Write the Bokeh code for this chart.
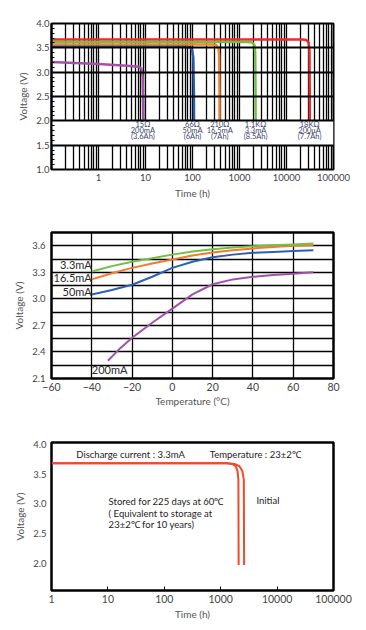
from bokeh.plotting import figure
from bokeh.layouts import column
from bokeh.models import FixedTicker, PrintfTickFormatter
from bokeh.core.properties import value
from bokeh.embed import file_html
from bokeh.resources import INLINE
import numpy as np

FONT = "Lato"

# ---------------- Chart 1 data: discharge curves vs time ----------------
c1_purple_t = [0.1, 1, 4, 7.2, 8.2, 8.7, 8.9, 9.0]
c1_purple_v = [3.21, 3.17, 3.13, 3.11, 3.07, 2.9, 2.4, 2.0]
c1_blue_t = [0.1, 10, 70, 88, 98, 104, 107, 108]
c1_blue_v = [3.52, 3.52, 3.52, 3.51, 3.46, 3.3, 2.6, 2.0]
c1_orange_t = [0.1, 10, 260, 320, 355, 370, 375, 376]
c1_orange_v = [3.57, 3.57, 3.57, 3.56, 3.5, 3.35, 2.6, 2.0]
c1_green_t = [0.1, 10, 1500, 1850, 2080, 2160, 2190, 2200]
c1_green_v = [3.62, 3.62, 3.62, 3.61, 3.56, 3.4, 2.7, 2.0]
c1_red_t = [0.1, 10, 22000, 26500, 29500, 30800, 31200, 31300]
c1_red_v = [3.67, 3.67, 3.67, 3.66, 3.61, 3.45, 2.7, 2.0]
c1_label_t = [8.8, 100, 380, 2200, 31000]
c1_lab_res = ["15\u03a9", "66\u03a9", "210\u03a9", "1.1K\u03a9", "18K\u03a9"]
c1_lab_cur = ["200mA", "50mA", "16.5mA", "3.3mA", "200\u03bcA"]
c1_lab_cap = ["(3.6Ah)", "(6Ah)", "(7Ah)", "(8.5Ah)", "(7.7Ah)"]
c1_lab_rows_v = [1.915, 1.795, 1.675]
c1_yticks = [1.0, 1.5, 2.0, 2.5, 3.0, 3.5, 4.0]
c1_xticks = [1, 10, 100, 1000, 10000, 100000]
c1_band = [1.5, 2.0]

# ---------------- Chart 2 data: voltage vs temperature ----------------
c2_temp = [-40, -30, -20, -10, 0, 10, 20, 30, 40, 50, 60, 70]
c2_33 = [3.31, 3.37, 3.42, 3.46, 3.50, 3.535, 3.56, 3.58, 3.595, 3.605, 3.615, 3.625]
c2_165 = [3.22, 3.29, 3.35, 3.40, 3.445, 3.49, 3.525, 3.55, 3.57, 3.585, 3.60, 3.605]
c2_50 = [3.05, 3.10, 3.16, 3.25, 3.35, 3.42, 3.47, 3.50, 3.52, 3.53, 3.54, 3.55]
c2_200_temp = [-32, -26, -20, -10, 0, 10, 20, 30, 40, 50, 60, 70]
c2_200 = [2.30, 2.44, 2.56, 2.73, 2.89, 3.05, 3.165, 3.22, 3.25, 3.27, 3.285, 3.30]
c2_yticks = [2.1, 2.4, 2.7, 3.0, 3.3, 3.6]
c2_ygrid = [2.25, 2.4, 2.55, 2.7, 2.85, 3.0, 3.15, 3.3, 3.45, 3.6]
c2_xticks = [-60, -40, -20, 0, 20, 40, 60, 80]
c2_xgrid = [-40, -20, 0, 20, 40, 60]
c2_lab = ["3.3mA", "16.5mA", "50mA", "200mA"]
c2_lab_x = [-40, -40, -40, -40]
c2_lab_y = [3.385, 3.24, 3.08, 2.205]

# ---------------- Chart 3 data: storage ----------------
c3_stored_t = [1, 100, 1300, 1600, 1850, 1990, 2060, 2080]
c3_stored_v = [3.68, 3.68, 3.68, 3.67, 3.63, 3.55, 3.4, 1.97]
c3_init_t = [1, 100, 1300, 1750, 2150, 2420, 2570, 2600]
c3_init_v = [3.68, 3.68, 3.68, 3.67, 3.63, 3.55, 3.4, 1.97]
c3_yticks = [2.0, 2.5, 3.0, 3.5, 4.0]
c3_xticks = [1, 10, 100, 1000, 10000, 100000]
c3_txt = ["Discharge current : 3.3mA", "Temperature : 23\u00b12\u2103",
          "Stored for 225 days at 60\u2103", "( Equivalent to storage at",
          "23\u00b12\u2103 for 10 years)", "Initial"]
c3_txt_x = [2.75, 640, 10.3, 10.3, 10.3, 4300]
c3_txt_y = [3.83, 3.83, 3.03, 2.84, 2.645, 3.06]


def style_common(p, tick_size, title_size):
    for ax in (p.xaxis, p.yaxis):
        ax.major_label_text_font = FONT
        ax.axis_label_text_font = FONT
        ax.major_label_text_font_size = tick_size
        ax.axis_label_text_font_size = title_size
        ax.axis_label_text_font_style = "normal"
        ax.major_label_text_color = "#444444"
        ax.axis_label_text_color = "#555555"
        ax.axis_line_color = "black"
    p.outline_line_color = "black"
    p.background_fill_color = "white"
    p.border_fill_color = "white"


# ================= Figure 1 =================
p1 = figure(width=358, height=205, x_axis_type="log",
            x_range=(0.1, 100000), y_range=(1.0, 4.0),
            output_backend="svg", toolbar_location=None,
            min_border_left=50, min_border_right=23,
            min_border_top=23, min_border_bottom=36)
style_common(p1, "9.5px", "10px")
p1.outline_line_width = 2
p1.xaxis.ticker = FixedTicker(ticks=c1_xticks)
p1.xaxis.formatter = PrintfTickFormatter(format="%d")
p1.xaxis.major_tick_in = 0
p1.xaxis.major_tick_out = 0
p1.xaxis.minor_tick_in = 0
p1.xaxis.minor_tick_out = 0
p1.xaxis.axis_label = "Time (h)"
p1.xaxis.major_label_standoff = 4
p1.xaxis.axis_label_standoff = 3
p1.yaxis.ticker = FixedTicker(ticks=c1_yticks,
                              minor_ticks=list(np.round(np.arange(1.0, 4.01, 0.1), 2)))
p1.yaxis.formatter = PrintfTickFormatter(format="%.1f")
p1.yaxis.major_tick_in = 5
p1.yaxis.major_tick_out = 0
p1.yaxis.minor_tick_in = 3
p1.yaxis.minor_tick_out = 0
p1.yaxis.minor_tick_line_color = "black"
p1.yaxis.major_label_standoff = 2
p1.yaxis.axis_label = "Voltage (V)"
p1.yaxis.axis_label_standoff = 4
p1.yaxis.axis_line_width = 2

grid_x = [m * 10.0 ** e for e in range(-1, 5) for m in range(1, 10)] + [100000]
p1.xgrid.ticker = FixedTicker(ticks=grid_x)
p1.xgrid.grid_line_color = "black"
p1.xgrid.grid_line_width = 1.3
p1.ygrid.ticker = FixedTicker(ticks=c1_yticks)
p1.ygrid.grid_line_color = "black"
p1.ygrid.grid_line_width = 2
p1.ygrid.level = "annotation"

p1.quad(left=[0.1], right=[100000], bottom=[c1_band[0]], top=[c1_band[1]],
        fill_color="white", line_color=None)

lw = 2.5
p1.line(c1_red_t, c1_red_v, line_color="#ee2a2a", line_width=lw)
p1.line(c1_green_t, c1_green_v, line_color="#72bf44", line_width=lw)
p1.line(c1_orange_t, c1_orange_v, line_color="#f58232", line_width=lw)
p1.line(c1_blue_t, c1_blue_v, line_color="#2a5caa", line_width=lw)
p1.line(c1_purple_t, c1_purple_v, line_color="#a452a8", line_width=lw)

for row_text, row_v in zip([c1_lab_res, c1_lab_cur, c1_lab_cap], c1_lab_rows_v):
    p1.text(x=c1_label_t, y=[row_v] * len(c1_label_t), text=row_text,
            text_font=value(FONT), text_font_size="7.5px", text_color="#3a4468",
            text_align="center", text_baseline="middle")

# ================= Figure 2 =================
p2 = figure(width=358, height=205,
            x_range=(-60, 80), y_range=(2.1, 3.75),
            output_backend="svg", toolbar_location=None,
            min_border_left=50, min_border_right=25,
            min_border_top=27, min_border_bottom=32)
style_common(p2, "9.5px", "10px")
p2.outline_line_width = 2.5
p2.xaxis.ticker = FixedTicker(ticks=c2_xticks)
p2.xaxis.major_label_text_font_size = "10.5px"
p2.xaxis.major_tick_in = 0
p2.xaxis.major_tick_out = 0
p2.xaxis.minor_tick_in = 0
p2.xaxis.minor_tick_out = 0
p2.xaxis.major_label_standoff = 4
p2.xaxis.axis_label = "Temperature (\u00b0C)"
p2.xaxis.axis_label_standoff = 1
p2.yaxis.ticker = FixedTicker(ticks=c2_yticks)
p2.yaxis.formatter = PrintfTickFormatter(format="%.1f")
p2.yaxis.major_tick_in = 0
p2.yaxis.major_tick_out = 0
p2.yaxis.minor_tick_in = 0
p2.yaxis.minor_tick_out = 0
p2.yaxis.major_label_standoff = 6
p2.yaxis.axis_label = "Voltage (V)"
p2.yaxis.axis_label_standoff = 4
p2.xgrid.ticker = FixedTicker(ticks=c2_xgrid)
p2.ygrid.ticker = FixedTicker(ticks=c2_ygrid)
for g in (p2.xgrid, p2.ygrid):
    g.grid_line_color = "black"
    g.grid_line_width = 1.3

lw2 = 2
p2.line(c2_temp, c2_50, line_color="#2d5fb2", line_width=lw2)
p2.line(c2_temp, c2_165, line_color="#f47a30", line_width=lw2)
p2.line(c2_temp, c2_33, line_color="#72c043", line_width=lw2)
p2.line(c2_200_temp, c2_200, line_color="#a052a8", line_width=lw2)

p2.text(x=c2_lab_x, y=c2_lab_y, text=c2_lab,
        text_align=["right", "right", "right", "left"],
        text_font=value(FONT), text_font_size="11px", text_color="#2a2a2a",
        text_baseline="middle")

# ================= Figure 3 =================
p3 = figure(width=358, height=212, x_axis_type="log",
            x_range=(1, 100000), y_range=(1.54, 4.03),
            output_backend="svg", toolbar_location=None,
            min_border_left=51, min_border_right=23,
            min_border_top=32, min_border_bottom=32)
style_common(p3, "9.5px", "10px")
p3.outline_line_width = 2.5
p3.xaxis.ticker = FixedTicker(ticks=c3_xticks)
p3.xaxis.formatter = PrintfTickFormatter(format="%d")
p3.xaxis.major_label_text_font_size = "10.5px"
p3.xaxis.major_tick_in = 4
p3.xaxis.major_tick_out = 0
p3.xaxis.major_tick_line_color = "black"
p3.xaxis.minor_tick_in = 0
p3.xaxis.minor_tick_out = 0
p3.xaxis.major_label_standoff = 4
p3.xaxis.axis_label = "Time (h)"
p3.xaxis.axis_label_standoff = 2
p3.yaxis.ticker = FixedTicker(ticks=c3_yticks)
p3.yaxis.formatter = PrintfTickFormatter(format="%.1f")
p3.yaxis.major_tick_in = 0
p3.yaxis.major_tick_out = 0
p3.yaxis.minor_tick_in = 0
p3.yaxis.minor_tick_out = 0
p3.yaxis.major_label_standoff = 5
p3.yaxis.axis_label = "Voltage (V)"
p3.yaxis.axis_label_standoff = 4
p3.xgrid.visible = False
p3.ygrid.visible = False

p3.line(c3_init_t, c3_init_v, line_color="#f04a2a", line_width=2)
p3.line(c3_stored_t, c3_stored_v, line_color="#f04a2a", line_width=2)

p3.text(x=c3_txt_x, y=c3_txt_y, text=c3_txt,
        text_font=value(FONT), text_font_size="9.5px", text_color="#222222",
        text_align="left", text_baseline="middle")

layout = column(p1, p2, p3)
open("out.html", "w").write(file_html(layout, INLINE))
